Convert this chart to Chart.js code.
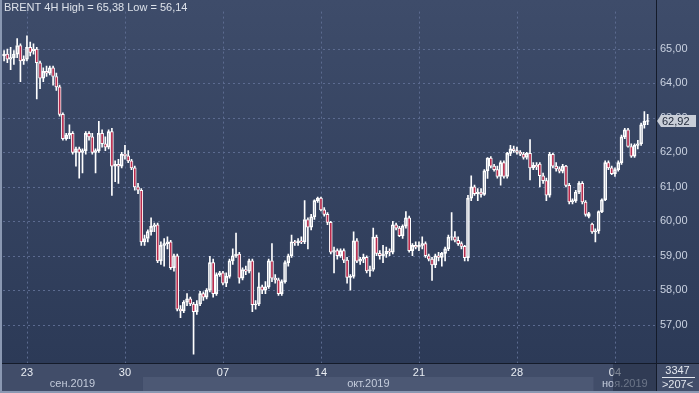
<!DOCTYPE html>
<html><head><meta charset="utf-8">
<script src="https://cdn.jsdelivr.net/npm/chart.js@4.4.1/dist/chart.umd.min.js"></script>
<style>html,body{margin:0;padding:0;background:#8a98b2;overflow:hidden}canvas{display:block}</style>
</head><body><canvas id="c" width="699" height="393"></canvas>
<script>
const seriesName = 'BRENT 4H';
const opens = [64.80,64.85,64.70,64.75,64.85,65.10,64.65,64.70,65.05,64.95,
65.00,64.60,64.15,64.35,64.30,64.45,64.20,63.90,63.10,62.40,
62.50,62.55,62.00,62.10,62.00,62.05,62.55,62.45,62.00,62.05,
62.55,62.25,62.15,62.60,61.60,61.65,61.60,61.95,61.90,61.75,
61.55,61.00,60.90,59.40,59.50,59.70,59.85,59.90,58.85,59.30,
59.35,59.40,58.65,59.00,57.45,57.40,57.65,57.75,57.60,57.38,
57.60,57.90,57.80,58.00,58.80,57.90,58.45,58.50,58.20,58.40,
58.85,59.00,59.05,58.35,58.60,58.55,58.85,57.58,57.60,58.10,
58.00,58.10,58.85,58.35,58.30,57.90,58.25,58.80,59.00,59.40,
59.38,59.43,59.40,60.05,59.83,60.13,60.60,60.67,60.33,60.20,
59.97,59.10,59.15,59.00,59.15,58.87,58.37,58.40,59.43,58.84,
58.90,58.95,58.56,58.60,59.54,59.07,59.00,59.05,59.13,59.10,
59.90,59.80,59.58,59.86,60.10,59.15,59.30,59.25,59.30,59.35,
59.00,58.90,58.73,59.00,58.95,59.07,59.20,59.54,59.55,59.45,
59.35,59.27,58.94,60.67,61.00,60.80,60.85,60.78,61.46,61.83,
61.60,61.50,61.30,61.70,61.30,61.97,62.10,62.05,62.00,61.95,
61.85,61.97,61.55,61.62,61.66,61.32,61.18,60.76,61.94,61.60,
61.52,61.45,61.60,61.04,60.56,60.60,60.85,61.10,60.56,60.14,
59.92,59.69,59.72,60.28,60.62,61.70,61.55,61.38,61.50,61.70,
62.45,62.65,62.17,61.89,62.20,62.25,62.80,62.90];
const highs = [64.95,65.00,65.05,64.95,65.30,65.15,64.80,65.38,65.20,65.15,
65.05,64.65,64.45,64.50,64.50,64.50,64.30,63.95,63.15,62.55,
62.80,62.60,62.15,62.15,62.10,62.60,62.60,62.55,62.10,62.90,
62.65,62.45,62.65,62.70,61.75,61.80,62.00,62.20,62.05,61.80,
61.60,61.10,60.95,59.60,59.75,60.10,59.95,59.95,59.40,59.50,
59.55,59.45,59.05,59.05,57.55,57.70,57.90,57.80,57.65,57.70,
57.97,57.95,58.05,58.98,58.90,58.50,58.55,58.55,58.50,58.90,
59.20,59.66,59.10,58.65,58.70,58.90,58.90,57.70,58.50,58.15,
58.25,58.90,59.35,58.45,58.35,58.30,58.85,59.05,59.60,59.45,
59.50,59.55,60.60,60.10,60.20,60.62,60.70,60.70,60.40,60.25,
60.00,59.25,59.20,59.20,59.20,58.95,58.45,59.69,59.50,58.95,
59.05,59.00,58.70,59.80,59.60,59.15,59.30,59.25,59.20,60.00,
59.95,59.85,59.90,60.28,60.15,59.35,59.40,59.40,59.55,59.40,
59.05,58.95,59.05,59.10,59.10,59.25,59.60,60.25,59.70,59.55,
59.40,59.30,60.75,61.32,61.05,60.95,60.95,61.50,61.85,61.88,
61.65,61.60,61.75,61.75,62.00,62.20,62.18,62.15,62.05,62.00,
62.00,62.37,61.70,61.70,61.70,61.40,61.25,62.00,61.98,61.70,
61.58,61.65,61.62,61.10,60.65,60.90,61.15,61.15,60.60,60.26,
59.95,59.78,60.30,60.65,61.75,61.75,61.60,61.55,61.75,62.50,
62.70,62.70,62.25,62.25,62.35,62.85,63.18,63.10];
const lows = [64.65,64.60,64.40,64.55,64.75,64.05,64.55,64.65,64.80,64.85,
63.55,63.85,64.05,64.20,64.25,63.95,63.80,63.05,62.35,62.35,
62.40,61.95,61.60,61.25,61.40,61.95,62.35,61.95,61.40,62.00,
62.15,62.05,62.10,60.75,61.15,61.10,61.55,61.80,61.70,61.50,
60.90,60.80,59.30,59.30,59.40,59.60,59.70,58.80,58.75,58.70,
59.20,58.60,58.55,57.40,57.20,57.35,57.55,57.55,56.14,57.30,
57.55,57.70,57.75,57.95,57.80,57.85,58.40,58.15,58.10,58.35,
58.75,58.95,58.20,58.30,58.45,58.50,57.38,57.45,57.55,57.90,
57.90,58.05,58.25,58.20,57.85,57.85,58.20,58.70,58.95,59.30,
59.30,59.35,59.35,59.20,59.75,60.05,60.55,60.30,60.15,59.90,
59.05,58.50,58.90,58.95,58.80,58.20,58.00,58.35,58.80,58.75,
58.80,58.50,58.40,58.55,59.00,58.90,58.80,58.95,59.00,59.05,
59.75,59.55,59.50,59.80,59.10,59.00,59.20,59.15,59.20,58.95,
58.85,58.28,58.65,58.85,58.70,58.85,59.15,59.45,59.40,59.30,
59.20,58.85,58.85,60.60,60.75,60.60,60.70,60.75,61.24,61.55,
61.45,61.25,61.05,61.25,61.25,61.90,62.00,61.95,61.90,61.80,
61.80,61.20,61.50,61.50,61.00,61.10,60.60,60.70,61.55,61.45,
61.40,61.40,61.00,60.50,60.50,60.55,60.80,60.50,60.15,60.10,
59.65,59.40,59.65,60.25,60.60,61.50,61.35,61.30,61.45,61.65,
62.40,62.15,61.85,61.85,62.10,62.20,62.70,62.80];
const closes = [64.85,64.70,64.75,64.85,65.10,64.65,64.70,65.05,64.90,65.00,
64.60,64.15,64.35,64.30,64.45,64.20,63.90,63.10,62.40,62.50,
62.55,62.00,62.10,62.00,62.05,62.55,62.45,62.00,62.05,62.55,
62.25,62.15,62.60,61.60,61.65,61.60,61.95,61.90,61.75,61.55,
61.00,60.90,59.40,59.50,59.70,59.85,59.90,58.85,59.30,59.35,
59.40,58.65,59.00,57.45,57.40,57.65,57.75,57.60,57.38,57.60,
57.90,57.80,58.00,58.80,57.90,58.45,58.50,58.20,58.40,58.85,
59.00,59.05,58.35,58.60,58.55,58.85,57.58,57.60,58.10,58.00,
58.10,58.85,58.35,58.30,57.90,58.25,58.80,59.00,59.40,59.38,
59.43,59.40,60.05,59.83,60.13,60.60,60.67,60.33,60.20,59.97,
59.10,59.15,59.00,59.15,58.87,58.37,58.40,59.43,58.84,58.90,
58.95,58.56,58.60,59.54,59.07,59.00,59.05,59.13,59.10,59.90,
59.80,59.58,59.86,60.10,59.15,59.30,59.25,59.30,59.35,59.00,
58.90,58.73,59.00,58.95,59.07,59.20,59.54,59.55,59.45,59.35,
59.27,58.94,60.67,61.00,60.80,60.85,60.78,61.46,61.83,61.60,
61.50,61.30,61.70,61.30,61.97,62.10,62.05,62.00,61.95,61.85,
61.97,61.55,61.62,61.58,61.32,61.18,60.76,61.94,61.60,61.52,
61.45,61.60,61.04,60.56,60.60,60.85,61.10,60.56,60.20,60.22,
59.69,59.72,60.28,60.62,61.70,61.55,61.38,61.50,61.70,62.45,
62.65,62.17,61.89,62.20,62.25,62.80,62.90,62.92];
const weekTickIdx = [7,37,67,97,127,157,187];
const weekTickLabels = ['23','30','07','14','21','28','04'];
const priceTicks = [57,58,59,60,61,62,63,64,65];
const monthLabels = ['сен.2019','окт.2019','ноя.2019'];
const monthStartIdx = [-0.64,42.5,180.5];
const monthEndIdx = [42.5,180.5,199.56];
const barCount = 3347;
const visibleBars = 207;

const FONT = '"Liberation Sans", Arial, sans-serif';
const fmt = v => v.toFixed(2).replace('.', ',');
const idx = closes.map((_, i) => i);

const upperWick = idx.map(i => ({x:i, y:[Math.max(opens[i],closes[i]), highs[i]]}));
const lowerWick = idx.map(i => ({x:i, y:[lows[i], Math.min(opens[i],closes[i])]}));
const bodies = idx.map(i => ({x:i, y:[opens[i], closes[i]]}));
const bodyFill = idx.map(i => closes[i] < opens[i] ? '#b82a4c' : 'rgba(0,0,0,0)');

const GRID = '#5c6b90';

const frame = {
  id:'frame',
  beforeDraw(chart){
    const {ctx, chartArea:a, width:W, height:H} = chart;
    const xs = chart.scales.x, ys = chart.scales.y;
    ctx.save();
    ctx.fillStyle = '#8a98b2'; ctx.fillRect(0,0,W,H);
    const g = ctx.createLinearGradient(0,0,0,a.bottom);
    g.addColorStop(0,'#3e4c6a'); g.addColorStop(1,'#2c3a57');
    ctx.fillStyle = g; ctx.fillRect(2,0,W-2,a.bottom);
    ctx.fillStyle = '#414d69'; ctx.fillRect(2,a.bottom,W-2,H-2-a.bottom);
    const cols = ['#414d69','#4c5874','#414d69'];
    for (let k=0;k<monthLabels.length;k++){
      const x0 = xs.getPixelForValue(monthStartIdx[k]);
      const x1 = xs.getPixelForValue(monthEndIdx[k]);
      ctx.fillStyle = cols[k]; ctx.fillRect(x0, a.bottom+14, x1-x0, 14);
    }
    // dashed grid lines at the scale ticks
    ctx.fillStyle = GRID;
    weekTickIdx.forEach(v => {
      const x = Math.round(xs.getPixelForValue(v));
      for (let y = a.top + 1; y < a.bottom; y += 5) ctx.fillRect(x, y, 1, 2);
    });
    priceTicks.forEach(v => {
      const y = Math.round(ys.getPixelForValue(v));
      for (let x = a.left + 1; x < a.right; x += 5) ctx.fillRect(x, y, 2, 1);
    });
    ctx.restore();
  },
  afterDraw(chart){
    const {ctx, chartArea:a, width:W, height:H} = chart;
    const xs = chart.scales.x, ys = chart.scales.y;
    ctx.save();
    ctx.font = '11px ' + FONT; ctx.textAlign='center'; ctx.textBaseline='middle';
    ctx.fillStyle = '#c3cbdb';
    for (let k=0;k<monthLabels.length;k++){
      const x0 = Math.max(xs.getPixelForValue(monthStartIdx[k]), a.left);
      const x1 = Math.min(xs.getPixelForValue(monthEndIdx[k]), a.right);
      ctx.fillText(monthLabels[k], (x0+x1)/2, a.bottom+21);
    }
    ctx.fillStyle = 'rgba(35,45,68,0.55)';
    ctx.fillRect(613, a.bottom, a.right-613, H-2-a.bottom);
    ctx.fillStyle = '#141b2a';
    ctx.fillRect(a.right, 0, 1, H-2);
    ctx.fillRect(2, a.bottom, W-2, 1);
    ctx.textAlign='left'; ctx.fillStyle='#dde2ea';
    const hi = Math.max(...highs), lo = Math.min(...lows);
    ctx.fillText(seriesName + ' High = ' + fmt(hi) + ' Low = ' + fmt(lo), 4, 8);
    const last = closes[closes.length-1];
    const py = Math.round(ys.getPixelForValue(last));
    ctx.fillStyle = '#c9ced8';
    ctx.beginPath();
    ctx.moveTo(a.right+1, py);
    ctx.lineTo(a.right+5, py-6);
    ctx.lineTo(W-3, py-6);
    ctx.lineTo(W-3, py+6);
    ctx.lineTo(a.right+5, py+6);
    ctx.closePath(); ctx.fill();
    ctx.fillStyle = '#1d2536';
    ctx.fillText(fmt(last), a.right+6, py+0.5);
    ctx.textAlign='center'; ctx.fillStyle='#e3e7ee';
    const cx = (a.right + W)/2;
    ctx.fillText(String(barCount), cx, a.bottom+8);
    ctx.fillRect(a.right+6, a.bottom+14, W-a.right-10, 1);
    ctx.fillText('>' + visibleBars + '<', cx, a.bottom+22);
    ctx.restore();
  }
};

new Chart(document.getElementById('c'), {
  type:'bar',
  data:{datasets:[
    {data:bodies, grouped:false, barThickness:3, backgroundColor:bodyFill, borderColor:'#ffffff', borderWidth:1, borderSkipped:false, order:0},
    {data:upperWick, grouped:false, barThickness:1, backgroundColor:'#ffffff', borderWidth:0, order:1},
    {data:lowerWick, grouped:false, barThickness:1, backgroundColor:'#ffffff', borderWidth:0, order:1}
  ]},
  options:{
    responsive:false, animation:false, devicePixelRatio:1,
    layout:{padding:{left:2,top:0,right:0,bottom:0}},
    plugins:{legend:{display:false}, tooltip:{enabled:false}, title:{display:false}},
    scales:{
      x:{type:'linear', position:'bottom', min:-0.64, max:199.56, offset:false,
         afterFit(s){ s.height = 30; },
         afterBuildTicks(s){ s.ticks = weekTickIdx.map(v => ({value:v})); },
         ticks:{autoSkip:false, maxRotation:0, padding:3, color:'#e9edf3', font:{family:FONT,size:11},
                callback:(v)=>{ const k = weekTickIdx.indexOf(v); return k>=0 ? weekTickLabels[k] : ''; }},
         grid:{display:false, drawTicks:false, tickLength:0},
         border:{display:false}},
      y:{type:'linear', position:'right', min:55.887, max:66.113,
         afterFit(s){ s.width = 43; },
         afterBuildTicks(s){ s.ticks = priceTicks.map(v => ({value:v})); },
         ticks:{padding:4, color:'#cad2e1', font:{family:FONT,size:11}, callback:v => fmt(v)},
         grid:{display:false, drawTicks:false, tickLength:0},
         border:{display:false}}
    }
  },
  plugins:[frame]
});
</script></body></html>
